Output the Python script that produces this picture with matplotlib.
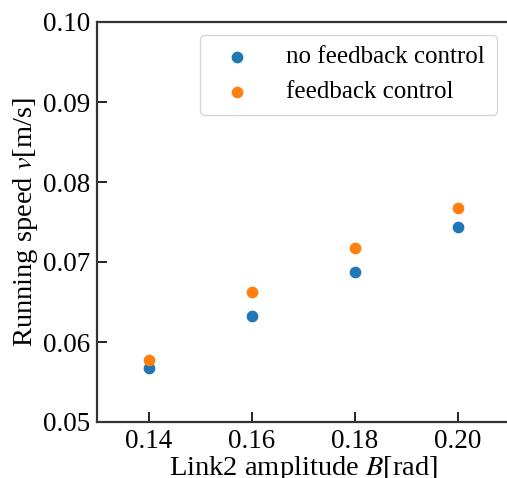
import numpy as np
import matplotlib
matplotlib.use("Agg")
import matplotlib.pyplot as plt

plt.rcParams['font.family'] = ['Liberation Serif', 'DejaVu Serif']
plt.rcParams['mathtext.fontset'] = 'stix'

# amplitude values and measured running speeds
amplitude = [0.14, 0.16, 0.18, 0.20]
speed_no_fb = [0.0568, 0.0632, 0.0687, 0.0744]
speed_fb = [0.0578, 0.0663, 0.0718, 0.0768]

fig = plt.figure(figsize=(5.07, 4.78), dpi=100)
ax = fig.add_axes([97 / 507, 56 / 478, 412 / 507, 400 / 478])

ax.scatter(amplitude, speed_no_fb, s=55, color='#1f77b4', label='no feedback control', zorder=3)
ax.scatter(amplitude, speed_fb, s=55, color='#ff7f0e', label='feedback control', zorder=3)

ax.set_xlim(0.13, 0.21)
ax.set_ylim(0.05, 0.10)
ax.set_xticks([0.14, 0.16, 0.18, 0.20])
ax.set_yticks([0.05, 0.06, 0.07, 0.08, 0.09, 0.10])
ax.xaxis.set_major_formatter(matplotlib.ticker.FormatStrFormatter('%.2f'))
ax.yaxis.set_major_formatter(matplotlib.ticker.FormatStrFormatter('%.2f'))
ax.tick_params(direction='in', length=7, width=1.2, labelsize=19.5, pad=5)

for sp in ax.spines.values():
    sp.set_linewidth(1.6)
    sp.set_color('#333333')

ax.set_xlabel('Link2 amplitude $B$[rad]', fontsize=20.5, labelpad=0)
ax.set_ylabel('Running speed $v$[m/s]', fontsize=20.5, labelpad=2)

ax.legend(loc='upper right', fontsize=18, handletextpad=1.0, borderpad=0.45,
          borderaxespad=0.5)

fig.savefig('out.png', dpi=100)
